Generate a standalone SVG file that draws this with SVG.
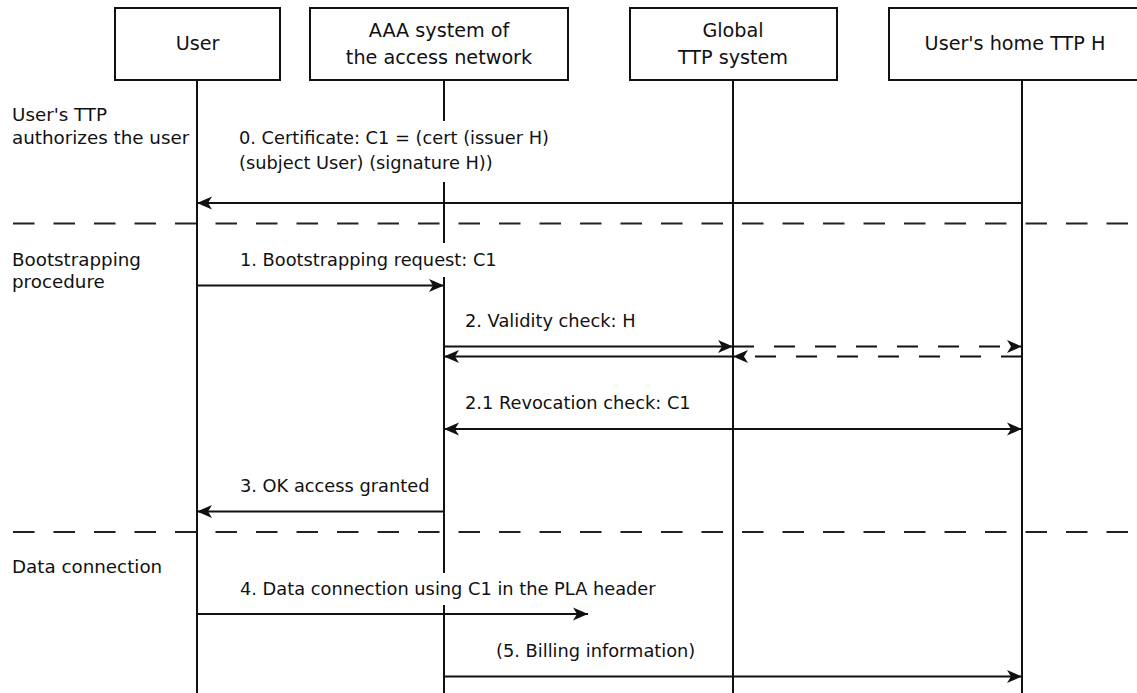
<svg xmlns="http://www.w3.org/2000/svg" width="1137" height="693" viewBox="0 0 1137 693">
  <style>
    .box { fill: #fff; stroke: #111; stroke-width: 2; }
    .life { stroke: #111; stroke-width: 2; fill: none; }
    .sep { stroke: #222; stroke-width: 2; stroke-dasharray: 21.5 19; fill: none; }
    .msg { stroke: #111; stroke-width: 2; fill: none; marker-end: url(#arrow); }
    .msg.dash { stroke-dasharray: 21 20; }
    .msg.both { marker-start: url(#arrow); }
    .bg { fill: #fff; stroke: none; }
    .title { font-family: "DejaVu Sans", sans-serif; font-size: 19.2px; fill: #111; text-anchor: middle; }
    .lbl { font-family: "DejaVu Sans", sans-serif; font-size: 17.8px; fill: #111; }
    .sec { font-family: "DejaVu Sans", sans-serif; font-size: 18.3px; fill: #111; }
  </style>
  <defs>
    <marker id="arrow" markerUnits="userSpaceOnUse" markerWidth="18" markerHeight="16" viewBox="-16 -8 18 16" refX="0" refY="0" orient="auto-start-reverse">
      <path d="M -15 -6.5 L 0 0 L -15 6.5 L -11 0 Z" fill="#111"/>
    </marker>
  </defs>
  <rect width="1137" height="693" fill="#fff"/>

  <!-- lifelines -->
  <g id="lifelines">
    <line class="life" x1="197" y1="80" x2="197" y2="693"/>
    <line class="life" x1="444" y1="80" x2="444" y2="693"/>
    <line class="life" x1="733" y1="80" x2="733" y2="693"/>
    <line class="life" x1="1022" y1="80" x2="1022" y2="693"/>
  </g>

  <!-- phase separators -->
  <g id="separators">
    <line class="sep" x1="13" y1="223.5" x2="1137" y2="223.5"/>
    <line class="sep" x1="13" y1="532" x2="1137" y2="532"/>
  </g>

  <!-- participants -->
  <g id="user">
    <rect class="box" x="115" y="8" width="165" height="72"/>
    <text class="title" x="197.5" y="49.5">User</text>
  </g>
  <g id="aaa">
    <rect class="box" x="310" y="8" width="258" height="72"/>
    <text class="title" x="439" y="37">AAA system of</text>
    <text class="title" x="439" y="64">the access network</text>
  </g>
  <g id="global-ttp">
    <rect class="box" x="630" y="8" width="207" height="72"/>
    <text class="title" x="733" y="37">Global</text>
    <text class="title" x="733" y="64">TTP system</text>
  </g>
  <g id="home-ttp">
    <rect class="box" x="889" y="8" width="250" height="72"/>
    <text class="title" x="1015" y="50">User's home TTP H</text>
  </g>

  <!-- phase captions -->
  <g id="phases">
    <text class="sec" x="12" y="121">User's TTP</text>
    <text class="sec" x="12" y="143.5">authorizes the user</text>
    <text class="sec" x="12" y="266">Bootstrapping</text>
    <text class="sec" x="12" y="288">procedure</text>
    <text class="sec" x="12" y="573">Data connection</text>
  </g>

  <!-- message labels (white backing breaks the lifelines behind them) -->
  <g id="labels">
    <rect class="bg" x="234" y="121" width="322" height="61"/>
    <text class="lbl" x="239" y="143.5">0. Certificate: C1 = (cert (issuer H)</text>
    <text class="lbl" x="239" y="169">(subject User) (signature H))</text>

    <rect class="bg" x="234" y="243" width="268" height="34"/>
    <text class="lbl" x="240" y="266">1. Bootstrapping request: C1</text>

    <text class="lbl" x="465" y="327">2. Validity check: H</text>
    <text class="lbl" x="465" y="409">2.1 Revocation check: C1</text>
    <text class="lbl" x="240" y="492">3. OK access granted</text>

    <rect class="bg" x="234" y="573" width="430" height="32"/>
    <text class="lbl" x="240" y="595">4. Data connection using C1 in the PLA header</text>

    <text class="lbl" x="496" y="657">(5. Billing information)</text>
  </g>

  <!-- messages -->
  <g id="connectors">
    <line class="msg" x1="1022" y1="203" x2="197" y2="203"/>
    <line class="msg" x1="197" y1="285.5" x2="444" y2="285.5"/>
    <line class="msg" x1="444" y1="346.5" x2="733" y2="346.5"/>
    <line class="msg" x1="733" y1="356.5" x2="444" y2="356.5"/>
    <line class="msg dash" x1="733" y1="346.5" x2="1022" y2="346.5"/>
    <line class="msg dash" x1="1022" y1="356.5" x2="733" y2="356.5"/>
    <line class="msg both" x1="444" y1="429" x2="1022" y2="429"/>
    <line class="msg" x1="444" y1="511.5" x2="197" y2="511.5"/>
    <line class="msg" x1="197" y1="614" x2="588" y2="614"/>
    <line class="msg" x1="444" y1="676.5" x2="1022" y2="676.5"/>
  </g>
</svg>
